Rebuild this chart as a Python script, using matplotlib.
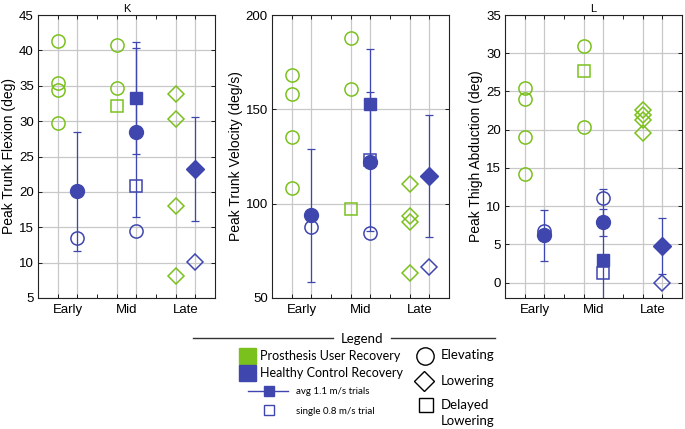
import numpy as np
import matplotlib
matplotlib.use('Agg')
import matplotlib.pyplot as plt

plt.rcParams['font.family'] = ['Liberation Sans', 'DejaVu Sans']

# colours
green = '#7BC11E'
blue = '#3F47AE'

phases = ['Early', 'Mid', 'Late']
pros_x = [1, 4, 7]      # prosthesis users column in each phase
hc_x = [2, 5, 8]        # healthy controls column in each phase

# ---- Peak trunk flexion (deg) ----
k_pros_early = [41.3, 35.4, 34.4, 29.8]        # elevating
k_pros_mid = [40.7, 34.7]                      # elevating
k_pros_mid_delayed = [32.1]                    # delayed lowering
k_pros_late = [33.8, 30.3, 18.0, 8.1]          # lowering
k_hc_avg = [20.1, 28.4, 33.3, 23.25]           # early circ, mid circ, mid square, late diamond
k_hc_sd = [8.4, 11.9, 7.9, 7.35]
k_hc_single = [13.5, 14.4, 20.9, 10.1]

# ---- Peak trunk velocity (deg/s) ----
v_pros_early = [168.2, 158.0, 135.2, 108.1]
v_pros_mid = [188.0, 161.0]
v_pros_mid_delayed = [97.0]
v_pros_late = [110.2, 93.5, 90.5, 63.1]
v_hc_avg = [93.9, 122.3, 152.7, 114.6]
v_hc_sd = [35.2, 36.7, 29.3, 32.4]
v_hc_single = [87.8, 84.3, 123.0, 66.6]

# ---- Peak thigh abduction (deg) ----
a_pros_early = [25.4, 24.0, 19.0, 14.2]
a_pros_mid = [30.9, 20.4]
a_pros_mid_delayed = [27.7]
a_pros_late = [22.6, 21.9, 21.3, 19.6]
a_hc_avg = [6.2, 7.9, 3.0, 4.8]
a_hc_sd = [3.35, 1.75, 9.2, 3.65]
a_hc_single = [6.8, 11.1, 1.3, 0.0]

panels = [
    dict(title='K', ylabel='Peak Trunk Flexion (deg)', ylim=(5, 45), yticks=np.arange(5, 46, 5),
         pe=k_pros_early, pm=k_pros_mid, pd=k_pros_mid_delayed, pl=k_pros_late,
         avg=k_hc_avg, sd=k_hc_sd, single=k_hc_single),
    dict(title='', ylabel='Peak Trunk Velocity (deg/s)', ylim=(50, 200), yticks=[50, 100, 150, 200],
         pe=v_pros_early, pm=v_pros_mid, pd=v_pros_mid_delayed, pl=v_pros_late,
         avg=v_hc_avg, sd=v_hc_sd, single=v_hc_single),
    dict(title='L', ylabel='Peak Thigh Abduction (deg)', ylim=(-2, 35), yticks=np.arange(0, 36, 5),
         pe=a_pros_early, pm=a_pros_mid, pd=a_pros_mid_delayed, pl=a_pros_late,
         avg=a_hc_avg, sd=a_hc_sd, single=a_hc_single),
]

fig = plt.figure(figsize=(6.85, 4.29), dpi=100)
lefts = [38, 272, 505]
ms = 9.5     # open circles
ms_sq = 8.5
ms_d = 8.5
ew = 1.1

for left, p in zip(lefts, panels):
    ax = fig.add_axes([left / 685, 1 - 298 / 429, 177 / 685, 283 / 429])
    ax.set_xlim(0, 9)
    ax.set_ylim(*p['ylim'])
    for xv in pros_x + hc_x:
        ax.axvline(xv, color='#c8c8c8', lw=0.9, zorder=0)
    for yv in p['yticks']:
        ax.axhline(yv, color='#c8c8c8', lw=0.9, zorder=0)

    # prosthesis users, one marker per subject
    ax.plot([pros_x[0]] * len(p['pe']), p['pe'], 'o', ms=ms, mfc='none', mec=green, mew=ew)
    ax.plot([pros_x[1]] * len(p['pm']), p['pm'], 'o', ms=ms, mfc='none', mec=green, mew=ew)
    ax.plot([pros_x[1]] * len(p['pd']), p['pd'], 's', ms=ms_sq, mfc='none', mec=green, mew=ew)
    ax.plot([pros_x[2]] * len(p['pl']), p['pl'], 'D', ms=ms_d, mfc='none', mec=green, mew=ew)

    # healthy controls: mean +/- sd and single trial
    hx = [hc_x[0], hc_x[1], hc_x[1], hc_x[2]]
    marks = ['o', 'o', 's', 'D']
    fsizes = [10, 10, ms_sq, 9]
    osizes = [ms, ms, ms_sq, ms_d]
    for i in range(4):
        ax.errorbar(hx[i], p['avg'][i], yerr=p['sd'][i], fmt='none', ecolor=blue,
                    elinewidth=0.9, capsize=3, capthick=0.9, zorder=2)
    for i in range(4):
        ax.plot(hx[i], p['avg'][i], marks[i], ms=fsizes[i], mfc=blue, mec=blue, zorder=3)
        ax.plot(hx[i], p['single'][i], marks[i], ms=osizes[i],
                mfc='none', mec=blue, mew=ew, zorder=3)

    ax.set_xticks([1.5, 4.5, 7.5])
    ax.set_xticklabels(phases, fontsize=9.5)
    ax.set_xticks(range(1, 9), minor=True)
    ax.tick_params(axis='x', which='major', length=0, pad=4)
    ax.tick_params(axis='x', which='minor', direction='in', length=3, top=True, width=0.6)
    ax.set_yticks(p['yticks'])
    ax.tick_params(axis='y', direction='in', length=3, right=True, labelsize=9.5, width=0.6, pad=3)
    ax.set_ylabel(p['ylabel'], fontsize=10, labelpad=2)
    if p['title']:
        ax.set_title(p['title'], fontsize=8, pad=2)
    for s in ax.spines.values():
        s.set_linewidth(0.8)
        s.set_color('#222222')

# ---- legend drawn in pixel coordinates ----
lg = fig.add_axes([0, 0, 1, 1], zorder=-1)
lg.set_xlim(0, 685)
lg.set_ylim(429, 0)
lg.axis('off')
lf = ['Lato', 'DejaVu Sans']
lg.plot([193, 333], [338, 338], color='#333333', lw=1)
lg.plot([391, 495], [338, 338], color='#333333', lw=1)
lg.text(362, 339, 'Legend', ha='center', va='center', fontsize=9.5, family=lf)

lg.add_patch(plt.Rectangle((239, 348), 17, 16, color=green))
lg.add_patch(plt.Rectangle((239, 365), 17, 16, color=blue))
lg.text(260, 356, 'Prosthesis User Recovery', va='center', fontsize=9, family=lf)
lg.text(260, 373, 'Healthy Control Recovery', va='center', fontsize=9, family=lf)
lg.plot([248, 288], [391, 391], color=blue, lw=1)
lg.plot([269], [391], 's', ms=7.5, color=blue)
lg.plot([269], [410], 's', ms=7.5, mfc='none', mec=blue, mew=1)
lg.text(296, 392, 'avg 1.1 m/s trials', va='center', fontsize=7, family=lf)
lg.text(296, 411, 'single 0.8 m/s trial', va='center', fontsize=7, family=lf)

lg.plot([425], [356], 'o', ms=12.5, mfc='none', mec='black', mew=1)
lg.plot([424], [381], 'D', ms=10, mfc='none', mec='black', mew=1)
lg.plot([426], [405], 's', ms=10, mfc='none', mec='black', mew=1)
lg.text(441, 355, 'Elevating', va='center', fontsize=9.5, family=lf)
lg.text(441, 381, 'Lowering', va='center', fontsize=9.5, family=lf)
lg.text(441, 405, 'Delayed', va='center', fontsize=9.5, family=lf)
lg.text(441, 421, 'Lowering', va='center', fontsize=9.5, family=lf)

fig.savefig('out.png', dpi=100)
